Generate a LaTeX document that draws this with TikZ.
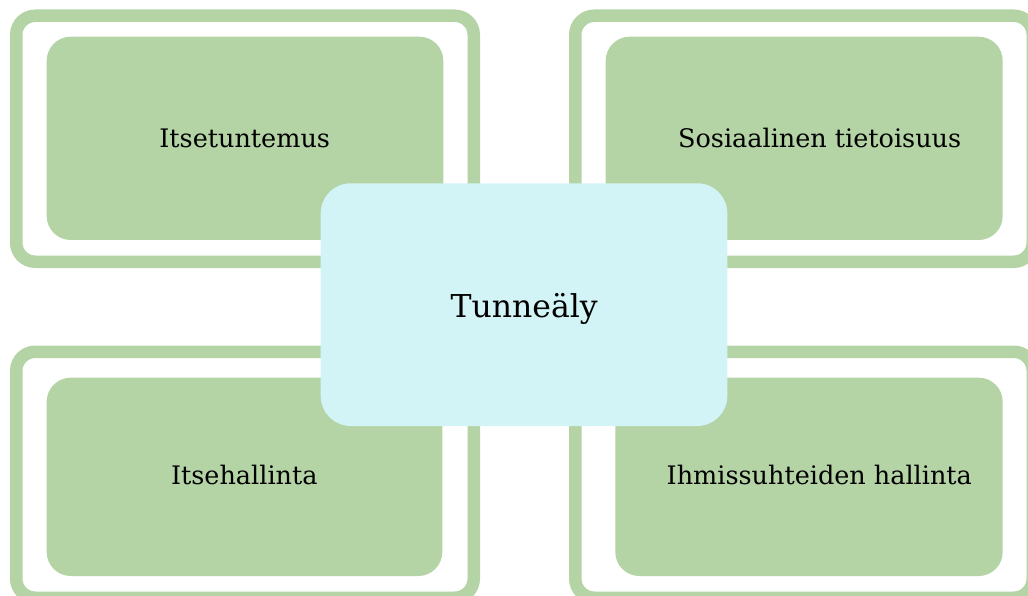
\documentclass[tikz,border=0pt]{standalone}
\usepackage{fontspec}
\setmainfont{DejaVu Serif}
\definecolor{leaf}{HTML}{B4D4A6}
\definecolor{ice}{HTML}{D3F4F7}
\tikzset{
  frame/.style={draw=leaf, line width=12.5pt, fill=white, rounded corners=19pt,
    inner sep=0pt, minimum width=457.5pt, minimum height=246pt},
  tile/.style={fill=leaf, rounded corners=24pt, inner sep=0pt},
  hub/.style={fill=ice, rounded corners=30pt, inner sep=0pt,
    minimum width=406.6pt, minimum height=242.7pt},
  lbl/.style={anchor=base, inner sep=0pt, font=\fontsize{25.5pt}{30pt}\selectfont},
  hublbl/.style={anchor=base, inner sep=0pt, font=\fontsize{31.5pt}{36pt}\selectfont}
}
\begin{document}
\begin{tikzpicture}[x=1pt, y=-1pt]
  \useasboundingbox (0,0) rectangle (1028,596);
  \begin{scope}
    \clip (0,0) rectangle (1028,596);
    % outer frames
    \node[frame] (fTL) at (245,138.75) {};
    \node[frame] (fTR) at (804,138.75) {};
    \node[frame] (fBL) at (245,474.75) {};
    \node[frame] (fBR) at (804,474.75) {};
    % inner tiles
    \node[tile, minimum width=396.6pt, minimum height=203.3pt] (tTL) at (245,138.35) {};
    \node[tile, minimum width=397pt, minimum height=203.3pt] (tTR) at (804.2,138.35) {};
    \node[tile, minimum width=395.6pt, minimum height=198.3pt] (tBL) at (244.5,476.85) {};
    \node[tile, minimum width=387.4pt, minimum height=198.3pt] (tBR) at (809,476.85) {};
    % labels of the four areas
    \node[lbl] (xTL) at (244.7,147.7) {Itsetuntemus};
    \node[lbl] (xTR) at (819.7,147.7) {Sosiaalinen tietoisuus};
    \node[lbl] (xBL) at (244.3,484.3) {Itsehallinta};
    \node[lbl] (xBR) at (819.3,484.3) {Ihmissuhteiden hallinta};
    % central box
    \node[hub] (hub) at (524,304.65) {};
    \node[hublbl] (xhub) at (524.2,317.7) {Tunneäly};
  \end{scope}
\end{tikzpicture}
\end{document}
